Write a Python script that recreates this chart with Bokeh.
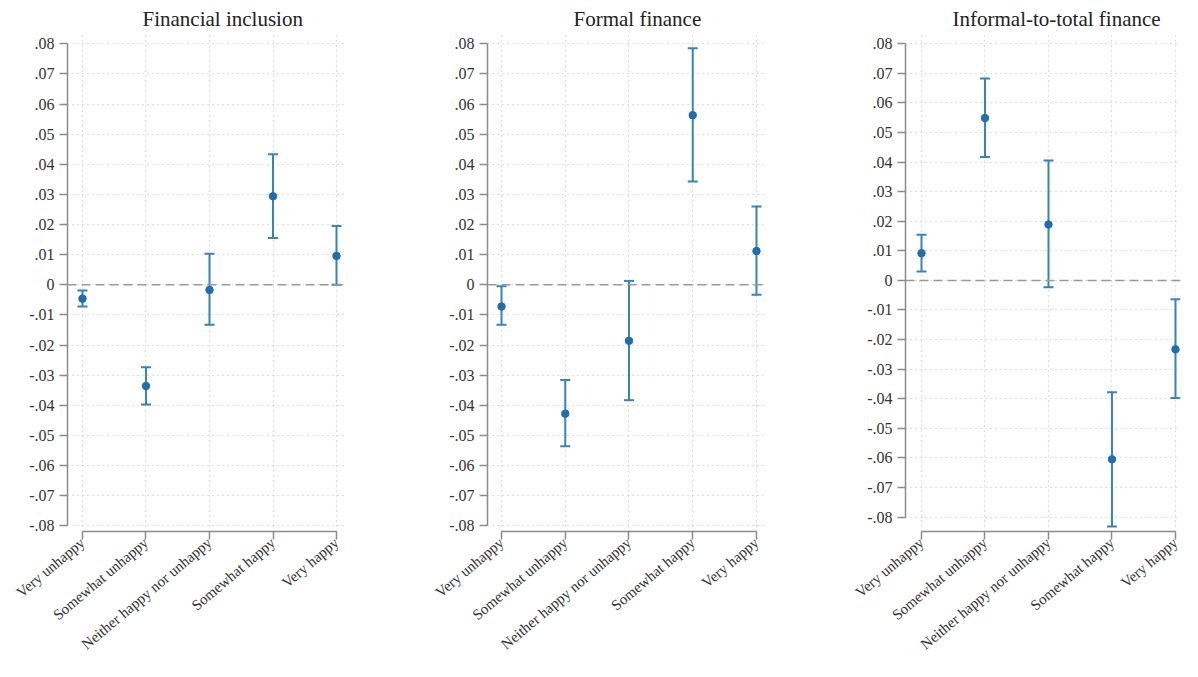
from bokeh.plotting import figure
from bokeh.layouts import row
from bokeh.models import ColumnDataSource, Whisker, TeeHead, Span, FixedTicker, CustomJSTickFormatter, Range1d
from bokeh.embed import file_html
from bokeh.resources import INLINE

categories = ["Very unhappy", "Somewhat unhappy", "Neither happy nor unhappy",
              "Somewhat happy", "Very happy"]
y_ticks = [-0.08, -0.07, -0.06, -0.05, -0.04, -0.03, -0.02, -0.01, 0.0,
           0.01, 0.02, 0.03, 0.04, 0.05, 0.06, 0.07, 0.08]

titles = ["Financial inclusion", "Formal finance", "Informal-to-total finance"]

fin_incl_est = [-0.0046, -0.0336, -0.0017, 0.0294, 0.0096]
fin_incl_lo = [-0.0072, -0.0397, -0.0133, 0.0155, 0.0000]
fin_incl_hi = [-0.0019, -0.0274, 0.0103, 0.0433, 0.0195]

formal_est = [-0.0072, -0.0428, -0.0186, 0.0563, 0.0112]
formal_lo = [-0.0133, -0.0536, -0.0383, 0.0343, -0.0033]
formal_hi = [-0.0005, -0.0316, 0.0013, 0.0785, 0.0260]

informal_est = [0.0092, 0.0549, 0.0189, -0.0605, -0.0233]
informal_lo = [0.0030, 0.0417, -0.0023, -0.0832, -0.0398]
informal_hi = [0.0154, 0.0683, 0.0405, -0.0378, -0.0064]

POINT = "#1f6fae"
BAR = "#3584c0"
FONT = "Liberation Serif"

panel_cfg = [
    dict(width=415, bl=67, br=68, xr=(-0.236, 4.173), yr=(-0.08189, 0.08342), toff=75),
    dict(width=420, bl=72, br=68, xr=(-0.22, 4.173), yr=(-0.08189, 0.08342), toff=86),
    dict(width=347, bl=70, br=2, xr=(-0.252, 4.079), yr=(-0.0849, 0.08348), toff=47),
]
series = [(fin_incl_est, fin_incl_lo, fin_incl_hi),
          (formal_est, formal_lo, formal_hi),
          (informal_est, informal_lo, informal_hi)]

ytick_js = """
if (Math.abs(tick) < 1e-9) { return "0"; }
return tick.toFixed(2).replace("0.", ".");
"""

figs = []
for title, cfg, (est, lo, hi) in zip(titles, panel_cfg, series):
    p = figure(width=cfg["width"], height=661,
               min_border_left=cfg["bl"], min_border_right=cfg["br"],
               min_border_top=33, min_border_bottom=126,
               x_range=Range1d(*cfg["xr"]), y_range=Range1d(*cfg["yr"]),
               output_backend="svg", toolbar_location=None,
               title=title, outline_line_color=None,
               background_fill_color="white", border_fill_color="white")
    p.title.text_font = FONT
    p.title.text_font_size = "21px"
    p.title.text_font_style = "normal"
    p.title.text_color = "#222222"
    p.title.align = "left"
    p.title.offset = cfg["toff"]
    p.title.standoff = 5

    src = ColumnDataSource(dict(x=list(range(len(categories))), est=est, lo=lo, hi=hi))

    # axes
    p.xaxis.ticker = FixedTicker(ticks=list(range(len(categories))))
    p.xaxis.major_label_overrides = {i: c for i, c in enumerate(categories)}
    p.xaxis.major_label_orientation = 0.70
    p.xaxis.bounds = (0, len(categories) - 1)
    p.yaxis.ticker = FixedTicker(ticks=y_ticks)
    p.yaxis.formatter = CustomJSTickFormatter(code=ytick_js)
    p.yaxis.bounds = (y_ticks[0], y_ticks[-1])
    for ax in (p.xaxis, p.yaxis):
        ax.axis_line_color = "#8c8c8c"
        ax.axis_line_width = 1.5
        ax.major_tick_line_color = "#8c8c8c"
        ax.major_tick_line_width = 1.5
        ax.major_tick_in = 0
        ax.major_tick_out = 8
        ax.minor_tick_line_color = None
        ax.minor_tick_out = 0
        ax.major_label_text_font = FONT
        ax.major_label_text_color = "#333333"
    p.xaxis.major_label_text_font_size = "15px"
    p.yaxis.major_label_text_font_size = "16px"
    p.xaxis.major_label_standoff = 1
    p.yaxis.major_label_standoff = 5

    # grids
    for g in (p.xgrid, p.ygrid):
        g.grid_line_color = "#bdbdbd"
        g.grid_line_dash = "1 4"
        g.grid_line_width = 1.2

    p.add_layout(Span(location=0, dimension="width", line_color="#9a9a9a",
                      line_dash="9 5", line_width=1.5))

    p.scatter("x", "est", source=src, size=7.5, color=POINT)
    w = Whisker(base="x", upper="hi", lower="lo", source=src,
                line_color=BAR, line_width=2,
                upper_head=TeeHead(size=10, line_color=BAR, line_width=2),
                lower_head=TeeHead(size=10, line_color=BAR, line_width=2))
    p.add_layout(w)
    figs.append(p)

layout = row(*figs, spacing=0)
open("out.html", "w").write(file_html(layout, INLINE))
